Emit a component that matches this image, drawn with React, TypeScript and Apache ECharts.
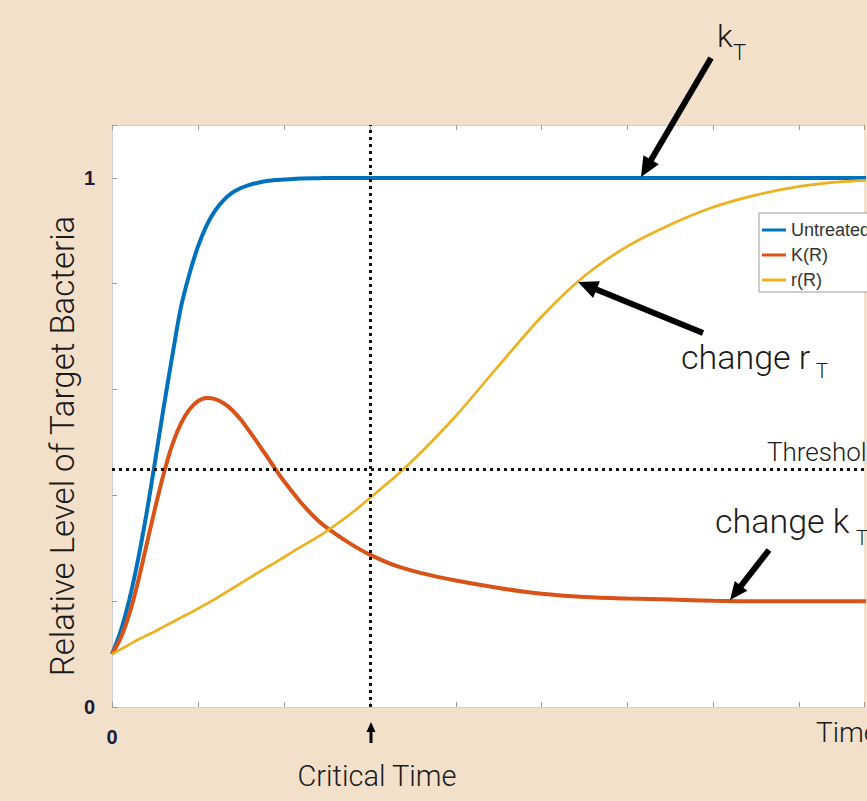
import React, { useEffect, useRef } from "react";
import * as echarts from "echarts";

// time grid (x values)
const times = [0, 0.1, 0.2, 0.3, 0.4, 0.5, 0.6, 0.7, 0.8, 0.9, 1.0, 1.1, 1.2, 1.3, 1.4, 1.5, 1.6, 1.7, 1.8, 1.9, 2.0, 2.2, 2.4, 2.6, 2.8, 3.0, 3.3, 3.6, 4.0, 4.5, 5.0, 5.5, 6.0, 6.5, 7.0, 7.5, 8.0, 8.5, 9.0, 9.5, 10];

const untreated = [0.1, 0.143, 0.202, 0.276, 0.364, 0.463, 0.565, 0.662, 0.754, 0.818, 0.87, 0.91, 0.938, 0.958, 0.972, 0.981, 0.987, 0.991, 0.994, 0.996, 0.997, 0.999, 0.9995, 1, 1, 1, 1, 1, 1, 1, 1, 1, 1, 1, 1, 1, 1, 1, 1, 1, 1];

const kR = [0.1, 0.13, 0.175, 0.235, 0.305, 0.375, 0.44, 0.495, 0.535, 0.562, 0.578, 0.584, 0.582, 0.574, 0.561, 0.543, 0.521, 0.498, 0.474, 0.45, 0.427, 0.386, 0.352, 0.327, 0.306, 0.288, 0.267, 0.253, 0.239, 0.225, 0.214, 0.208, 0.205, 0.203, 0.201, 0.2, 0.2, 0.2, 0.2, 0.2, 0.2];

const rR = [0.1, 0.109, 0.118, 0.127, 0.135, 0.143, 0.152, 0.16, 0.169, 0.177, 0.186, 0.195, 0.204, 0.214, 0.224, 0.234, 0.244, 0.254, 0.264, 0.273, 0.283, 0.303, 0.322, 0.344, 0.368, 0.395, 0.436, 0.482, 0.55, 0.645, 0.738, 0.815, 0.871, 0.912, 0.945, 0.968, 0.984, 0.993, 0.997, 0.999, 1.0];

const seriesNames = ["Untreated", "K(R)", "r(R)"];
const criticalTime = 3;
const threshold = 0.448;
const xTickLabels = ["0"];
const yTickLabels = ["0", "1"];
const yAxisTitle = "Relative Level of Target Bacteria";

const pairs = (ys: number[]) => times.map((t, i) => [t, ys[i]]);

function arrow(tail: number[], tip: number[], lw: number, hl: number, hw: number) {
  const dx = tip[0] - tail[0];
  const dy = tip[1] - tail[1];
  const len = Math.sqrt(dx * dx + dy * dy);
  const ux = dx / len;
  const uy = dy / len;
  const bx = tip[0] - ux * hl;
  const by = tip[1] - uy * hl;
  const px = -uy;
  const py = ux;
  return [
    {
      type: "line",
      shape: { x1: tail[0], y1: tail[1], x2: bx + ux * 2, y2: by + uy * 2 },
      style: { stroke: "#000", lineWidth: lw },
      z: 100,
    },
    {
      type: "polygon",
      shape: {
        points: [
          [tip[0], tip[1]],
          [bx + (px * hw) / 2, by + (py * hw) / 2],
          [bx - (px * hw) / 2, by - (py * hw) / 2],
        ],
      },
      style: { fill: "#000" },
      z: 100,
    },
  ];
}

const FONT = "Roboto";
function label(text: string, x: number, y: number, size: number, align = "left", rotation = 0) {
  return {
    type: "text",
    x,
    y,
    rotation,
    z: 100,
    style: {
      text,
      fill: "#1a1a1a",
      fontSize: size,
      fontFamily: FONT,
      fontWeight: 300,
      textAlign: align,
      textVerticalAlign: "middle",
      verticalAlign: "middle",
    },
  };
}

export default function App() {
  const ref = useRef<HTMLDivElement>(null);
  useEffect(() => {
    if (!ref.current) return;
    const chart = echarts.init(ref.current, undefined, { renderer: "svg" });
    const axisCommon = {
      type: "value",
      min: 0,
      max: 8.75,
      interval: 1,
      splitLine: { show: false },
      axisLine: { show: true, lineStyle: { color: "#cfcfcf", width: 1 } },
      axisTick: { show: true, inside: true, length: 5, lineStyle: { color: "#9a9a9a", width: 1 } },
    };
    const lineCommon = { type: "line", showSymbol: false, smooth: 0.3 };
    chart.setOption({
      animation: false,
      backgroundColor: "#f2e0ca",
      grid: { left: 112, top: 125, bottom: 94, right: 0, show: true, backgroundColor: "#ffffff", borderWidth: 0 },
      xAxis: [
        {
          ...axisCommon,
          position: "bottom",
          axisLabel: {
            show: true,
            margin: 20,
            fontSize: 20,
            fontWeight: 600,
            fontFamily: "Liberation Sans",
            color: "#1a1a3a",
            formatter: (v: number) => (Math.abs(v) < 1e-9 ? xTickLabels[0] : ""),
          },
        },
        {
          ...axisCommon,
          position: "top",
          axisLabel: { show: false },
        },
      ],
      yAxis: {
        type: "value",
        min: 0,
        max: 1.1,
        interval: 0.2,
        splitLine: { show: false },
        axisLine: { show: true, lineStyle: { color: "#cfcfcf", width: 1 } },
        axisTick: { show: true, inside: true, length: 5, lineStyle: { color: "#9a9a9a", width: 1 } },
        axisLabel: {
          show: true,
          margin: 17,
          fontSize: 20,
          fontWeight: 600,
          fontFamily: "Liberation Sans",
          color: "#1a1a3a",
          formatter: (v: number) => (Math.abs(v) < 1e-9 ? yTickLabels[0] : Math.abs(v - 1) < 1e-9 ? yTickLabels[1] : ""),
        },
      },
      legend: {
        data: seriesNames,
        orient: "vertical",
        left: 759,
        top: 213,
        padding: [8, 12, 3, 3],
        itemGap: 7,
        itemWidth: 24,
        itemHeight: 3,
        icon: "rect",
        backgroundColor: "#ffffff",
        borderColor: "#9a9a9a",
        borderWidth: 1,
        textStyle: { fontSize: 18, fontFamily: "Liberation Sans", color: "#333", lineHeight: 18 },
      },
      series: [
        {
          ...lineCommon,
          name: seriesNames[0],
          data: pairs(untreated),
          color: "#0072BD",
          lineStyle: { width: 4, color: "#0072BD" },
          markLine: {
            silent: true,
            symbol: "none",
            label: { show: false },
            lineStyle: { color: "#111", type: [3, 4], width: 3 },
            data: [{ xAxis: criticalTime }, { yAxis: threshold }],
            z: 50,
          },
        },
        {
          ...lineCommon,
          name: seriesNames[1],
          data: pairs(kR),
          color: "#D95319",
          lineStyle: { width: 4, color: "#D95319" },
        },
        {
          ...lineCommon,
          name: seriesNames[2],
          data: pairs(rR),
          color: "#EDB120",
          lineStyle: { width: 2.7, color: "#EDB120" },
        },
      ],
      graphic: [
        ...arrow([711, 58], [641, 177], 6, 20, 18),
        ...arrow([703, 333], [578, 282], 6, 20, 18),
        ...arrow([769, 550], [730, 600], 6, 18, 16),
        ...arrow([371, 743], [371, 722], 3, 10, 9),
        label(yAxisTitle, 62, 446, 33, "center", Math.PI / 2),
        label("k", 717, 36, 32),
        label("T", 733, 52, 22),
        label("change r", 681, 357, 34),
        label("T", 816, 371, 20),
        label("Threshold", 767, 452, 26),
        label("change k", 715, 521, 34),
        label("T", 856, 538, 20),
        label("Time", 816, 732, 28),
        label("Critical Time", 377, 776, 29, "center"),
      ],
    });
    return () => chart.dispose();
  }, []);
  return <div ref={ref} style={{ position: "fixed", left: 0, top: 0, width: 867, height: 801 }} />;
}
